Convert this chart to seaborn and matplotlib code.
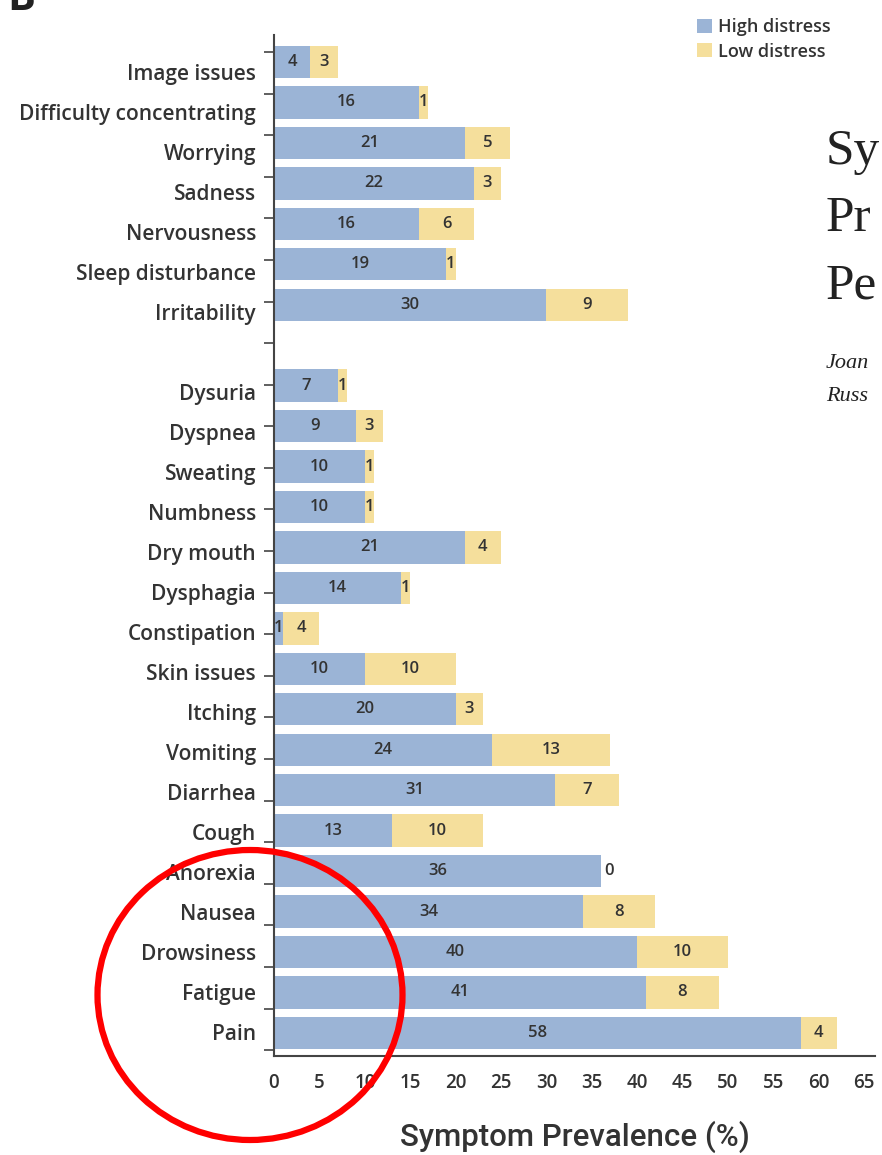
import matplotlib
matplotlib.use("Agg")
import matplotlib.pyplot as plt
from matplotlib.patches import Patch, Ellipse
import seaborn as sns
import pandas as pd

symptoms = ["Image issues", "Difficulty concentrating", "Worrying", "Sadness",
            "Nervousness", "Sleep disturbance", "Irritability", "",
            "Dysuria", "Dyspnea", "Sweating", "Numbness", "Dry mouth",
            "Dysphagia", "Constipation", "Skin issues", "Itching", "Vomiting",
            "Diarrhea", "Cough", "Anorexia", "Nausea", "Drowsiness",
            "Fatigue", "Pain"]
high_distress = [4, 16, 21, 22, 16, 19, 30, 0,
                 7, 9, 10, 10, 21, 14, 1, 10, 20, 24, 31, 13, 36, 34, 40, 41, 58]
low_distress = [3, 1, 5, 3, 6, 1, 9, 0,
                1, 3, 1, 1, 4, 1, 4, 10, 3, 13, 7, 10, 0, 8, 10, 8, 4]
x_ticks = list(range(0, 70, 5))

BLUE = "#9bb4d6"
YELLOW = "#f5df9c"
TXT = "#333333"

keys = [s if s else " " for s in symptoms]
df = pd.DataFrame({"symptom": keys, "high": high_distress, "low": low_distress})
df["total"] = df["high"] + df["low"]

sns.set_style("white")
plt.rcParams["font.family"] = ["Open Sans", "DejaVu Sans"]

fig = plt.figure(figsize=(8.82, 11.55), dpi=100)
ax = fig.add_axes([274 / 882, 1 - 1056 / 1155, 601 / 882, 1021 / 1155])

sns.barplot(data=df, y="symptom", x="total", order=keys, orient="h",
            color=YELLOW, saturation=1, width=0.8, linewidth=0, ax=ax, errorbar=None)
sns.barplot(data=df, y="symptom", x="high", order=keys, orient="h",
            color=BLUE, saturation=1, width=0.8, linewidth=0, ax=ax, errorbar=None)

for i, (s, h, l) in enumerate(zip(symptoms, high_distress, low_distress)):
    if not s:
        continue
    ax.text(h / 2, i, str(h), ha="center", va="center", fontsize=12, color=TXT, fontweight="semibold")
    if l > 0:
        ax.text(h + l / 2, i, str(l), ha="center", va="center", fontsize=12, color=TXT, fontweight="semibold")
    else:
        ax.text(h + 0.4, i, str(l), ha="left", va="center", fontsize=12, color=TXT, fontweight="semibold")

ax.set_xlim(0, 66.2)
ax.set_ylim(24.57, -0.667)

ax.set_xticks(x_ticks)
ax.set_xticklabels([str(t) for t in x_ticks], fontsize=13.5, color=TXT, fontweight="semibold")
ax.tick_params(axis="x", direction="out", length=6, width=1.2, color="#444444", pad=6)

n = len(symptoms)
ax.set_yticks([0.247 + 0.9886 * i for i in range(n)])
ax.set_yticklabels(symptoms, fontsize=15, color=TXT, fontweight="semibold")
ax.tick_params(axis="y", which="major", length=0, pad=13)
ax.set_yticks([-0.247 + 1.028 * i for i in range(n)], minor=True)
ax.tick_params(axis="y", which="minor", direction="out", length=7, width=1.2, color="#444444", left=True)

for side in ["top", "right"]:
    ax.spines[side].set_visible(False)
for side in ["left", "bottom"]:
    ax.spines[side].set_color("#444444")
    ax.spines[side].set_linewidth(1.5)

ax.set_ylabel("")
ax.set_xlabel("Symptom Prevalence (%)", fontsize=22.5, color=TXT, labelpad=20,
              family=["Roboto", "DejaVu Sans"], fontweight="medium")

handles = [Patch(facecolor=BLUE, edgecolor="none", label="High distress"),
           Patch(facecolor=YELLOW, edgecolor="none", label="Low distress")]
fig.legend(handles=handles, loc="upper left", bbox_to_anchor=(681 / 882, 1 - 2 / 1155),
           frameon=False, fontsize=13, handlelength=0.8, handleheight=0.8,
           handletextpad=0.35, labelspacing=0.35, labelcolor=TXT,
           prop={"weight": "semibold", "size": 13})

# panel letter and clipped article header from the source page
fig.text(0.008, 1.0, "B", fontsize=30, fontweight="bold", color="#222222", va="center", ha="left")
for k, t in enumerate(["Sy", "Pr", "Pe"]):
    fig.text(826 / 882, 1 - (152 + 67 * k) / 1155, t, fontsize=37, color="#222222",
             family=["Liberation Serif", "DejaVu Serif"], va="center", ha="left")
for k, t in enumerate(["Joan", "Russ"]):
    fig.text(826 / 882, 1 - (363 + 34 * k) / 1155, t, fontsize=16, color="#222222",
             style="italic", family=["Liberation Serif", "DejaVu Serif"], va="center", ha="left")

# red highlight circle
ell = Ellipse((250 / 882, 1 - 995 / 1155), 305 / 882, 290 / 1155, transform=fig.transFigure,
              fill=False, edgecolor="#ff0000", linewidth=4.5, zorder=10)
fig.patches.append(ell)

fig.savefig("out.png", dpi=100)
